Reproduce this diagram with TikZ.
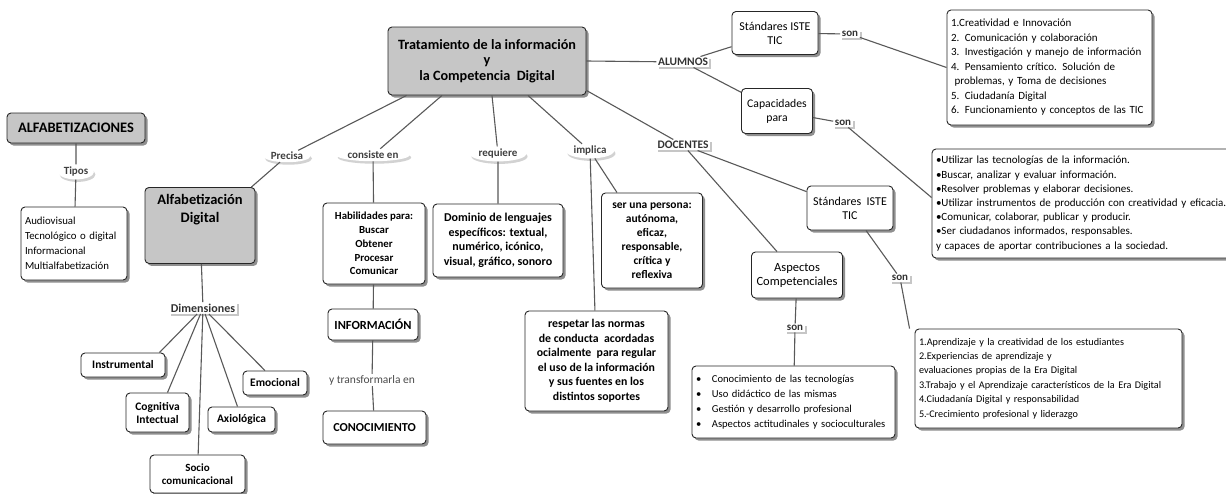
\documentclass[tikz,border=0pt]{standalone}
\usepackage{fontspec}
\setmainfont{Carlito}
\usetikzlibrary{shadows,shapes.geometric}
\tikzset{
	concepto/.style={draw=black!85,line width=0.9pt,rounded corners=4pt,fill=white,align=center,inner sep=3pt,
		drop shadow={shadow xshift=2.5pt,shadow yshift=-2.5pt,fill=black!55,opacity=0.8}},
	gconcepto/.style={concepto,fill=gray!45},
	lista/.style={concepto,align=left,inner sep=4pt},
	enlace/.style={ellipse,fill=white,inner sep=0.5pt,font=\fontsize{11}{12}\selectfont\bfseries\color{black!75},
		drop shadow={shadow xshift=1.5pt,shadow yshift=-2.5pt,fill=gray!35,opacity=1}},
	enlacer/.style={fill=white,inner sep=1.5pt,font=\fontsize{11}{12}\selectfont\bfseries\color{black!80},
		drop shadow={shadow xshift=2pt,shadow yshift=-2pt,fill=gray!45,opacity=1}},
	dimension/.style={concepto,font=\fontsize{11.5}{13}\selectfont\bfseries},
	linea/.style={draw=black!65,line width=1.1pt}
}

\begin{document}
\begin{tikzpicture}[x=1pt,y=-1pt]
	\useasboundingbox[fill=white] (0,0) rectangle (1226,493);

	% conceptos principales
	\node [gconcepto,minimum width=198pt,minimum height=68pt,font=\fontsize{14.2}{15.5}\selectfont\bfseries] (main) at (487,61)
		{Tratamiento de la información\\y\\la Competencia~~Digital};
	\node [gconcepto,minimum width=138pt,minimum height=30pt,font=\fontsize{14.5}{16}\selectfont\bfseries] (alfab) at (76,128) {ALFABETIZACIONES};
	\node [gconcepto,minimum width=110pt,minimum height=76pt,font=\fontsize{14.5}{18}\selectfont\bfseries,anchor=north] (alfdig) at (200,187)
		{Alfabetización\\Digital\\[16pt]};

	% alfabetizaciones
	\node [enlace,drop shadow={opacity=0}] (tipos) at (76,172) {Tipos};
	\node [lista,text width=98pt,minimum height=73pt,font=\fontsize{10.8}{15}\selectfont] (tiposlist) at (74,243.5)
		{Audiovisual\\Tecnológico o digital\\Informacional\\Multialfabetización};

	% dimensiones
	\node [enlacer,font=\fontsize{12}{13}\selectfont\bfseries\color{black!80}] (dimens) at (203,308) {Dimensiones};
	\node [dimension,minimum width=84pt,minimum height=24pt] (instr) at (123,365) {Instrumental};
	\node [dimension,minimum width=63pt,minimum height=39pt] (cogn) at (157.5,412.5) {Cognitiva\\Intectual};
	\node [dimension,minimum width=95pt,minimum height=38pt,font=\fontsize{11}{13}\selectfont\bfseries] (socio) at (197.5,474) {Socio\\comunicacional};
	\node [dimension,minimum width=67pt,minimum height=25pt] (axio) at (241.5,419.5) {Axiológica};
	\node [dimension,minimum width=64pt,minimum height=24pt] (emoc) at (275,383) {Emocional};

	% enlaces del concepto principal
	\node [enlace] (precisa) at (287,156) {Precisa};
	\node [enlace] (consiste) at (373,155) {consiste en};
	\node [enlace] (requiere) at (498,154) {requiere};
	\node [enlace] (implica) at (590,151) {implica};
	\node [enlacer,font=\fontsize{11.5}{12}\selectfont\bfseries\color{black!80}] (alumnos) at (683,62) {ALUMNOS};
	\node [enlacer,font=\fontsize{11.5}{12}\selectfont\bfseries\color{black!80}] (docentes) at (683,145) {DOCENTES};

	% centro
	\node [concepto,minimum width=102pt,minimum height=81pt,font=\fontsize{10.8}{13.8}\selectfont\bfseries] (habil) at (374,243.5)
		{Habilidades para:\\Buscar\\Obtener\\Procesar\\Comunicar};
	\node [concepto,minimum width=130pt,minimum height=73pt,font=\fontsize{12}{14.5}\selectfont\bfseries] (dominio) at (498,240.5)
		{Dominio de lenguajes\\específicos: textual,\\numérico, icónico,\\visual, gráfico, sonoro};
	\node [concepto,minimum width=90pt,minimum height=31pt,font=\fontsize{12.4}{13}\selectfont\bfseries] (info) at (373,324.5) {INFORMACIÓN};
	\node [font=\fontsize{11.5}{12}\selectfont\color{black!70},fill=white,inner sep=1pt] (transf) at (372,380) {y transformarla en};
	\node [concepto,minimum width=103pt,minimum height=33pt,font=\fontsize{12.2}{13}\selectfont\bfseries] (conoc) at (374.5,427.5) {CONOCIMIENTO};
	\node [concepto,minimum width=101pt,minimum height=95pt,font=\fontsize{11.5}{14}\selectfont\bfseries] (persona) at (652,240.5)
		{ser una persona:\\autónoma,\\eficaz,\\responsable,\\crítica y\\reflexiva};
	\node [concepto,minimum width=143pt,minimum height=100pt,font=\fontsize{11.8}{14.5}\selectfont\bfseries] (respetar) at (596.5,361)
		{respetar las normas\\de conducta~~acordadas\\ocialmente~~para regular\\el uso de la información\\y sus fuentes en los\\distintos soportes};

	% alumnos
	\node [concepto,minimum width=86pt,minimum height=43pt,font=\fontsize{12}{14}\selectfont] (iste1) at (775,33) {Stándares ISTE\\TIC};
	\node [enlacer] (son1) at (850,34) {son};
	\node [concepto,minimum width=71pt,minimum height=45pt,font=\fontsize{11.7}{14}\selectfont] (capac) at (777,111) {Capacidades\\para};
	\node [enlacer] (son2) at (843,123) {son};
	\node [lista,text width=197pt,minimum height=115pt,font=\fontsize{11}{14.5}\selectfont] (lista1) at (1049.5,67.5)
		{1.Creatividad e Innovación\\2. Comunicación y colaboración\\3. Investigación y manejo de información\\
		 4. Pensamiento crítico. Solución de\\\ problemas, y Toma de decisiones\\5. Ciudadanía Digital\\6. Funcionamiento y conceptos de las TIC};
	\node [lista,text width=304pt,minimum height=109pt,font=\fontsize{11}{14.2}\selectfont] (lista2) at (1088,203.5)
		{•Utilizar las tecnologías de la información.\\•Buscar, analizar y evaluar información.\\•Resolver problemas y elaborar decisiones.\\
		 •Utilizar instrumentos de producción con creatividad y eficacia.\\•Comunicar, colaborar, publicar y producir.\\
		 •Ser ciudadanos informados, responsables.\\y capaces de aportar contribuciones a la sociedad.};

	% docentes
	\node [concepto,minimum width=86pt,minimum height=44pt,font=\fontsize{12}{14}\selectfont] (iste2) at (850,208) {Stándares~~ISTE\\TIC};
	\node [enlacer] (son3) at (900,278) {son};
	\node [lista,text width=259pt,minimum height=99pt,font=\fontsize{10.2}{14.4}\selectfont] (lista3) at (1048.5,378.5)
		{1.Aprendizaje y la creatividad de los estudiantes\\2.Experiencias de aprendizaje y\\evaluaciones propias de la Era Digital\\
		 3.Trabajo y el Aprendizaje característicos de la Era Digital\\4.Ciudadanía Digital y responsabilidad\\5.-Crecimiento profesional y liderazgo};
	\node [concepto,minimum width=91pt,minimum height=46pt,font=\fontsize{12.5}{14}\selectfont] (aspectos) at (797,275) {Aspectos\\Competenciales};
	\node [enlacer] (son4) at (795,328) {son};
	\node [lista,text width=195pt,minimum height=72pt,font=\fontsize{10.6}{15}\selectfont] (lista4) at (793.5,402)
		{\textbullet\quad Conocimiento de las tecnologías\\\textbullet\quad Uso didáctico de las mismas\\
		 \textbullet\quad Gestión y desarrollo profesional\\\textbullet\quad Aspectos actitudinales y socioculturales};

	% conectores
	\draw [linea] (alfab) -- (tipos) -- (tiposlist);
	\draw [linea] ([xshift=-4pt]alfdig.north east) -- (precisa) -- ([xshift=19pt]main.south west);
	\draw [linea] (alfdig) -- (dimens);
	\draw [linea] (dimens) -- ([xshift=-6pt]instr.north east);
	\draw [linea] (dimens) -- ([xshift=10pt]cogn.north);
	\draw [linea] (dimens) -- (socio);
	\draw [linea] (dimens) -- ([xshift=-4pt]axio.north);
	\draw [linea] (dimens) -- ([xshift=-10pt]emoc.north);
	\draw [linea] ([xshift=-45pt]main.south) -- (consiste) -- (habil) -- (info) -- (transf) -- (conoc);
	\draw [linea] ([xshift=5pt]main.south) -- (requiere) -- (dominio);
	\draw [linea] ([xshift=41pt]main.south) -- (implica) -- ([xshift=-35pt]persona.north);
	\draw [linea] (implica) -- (respetar);
	\draw [linea] (main.east) -- (alumnos);
	\draw [linea] ([yshift=5pt]main.south east) -- (docentes);
	\draw [linea] (alumnos) -- (iste1) -- (son1) -- (lista1.west);
	\draw [linea] (alumnos) -- (capac) -- (son2) -- ([yshift=6pt]lista2.west);
	\draw [linea] (docentes) -- (iste2) -- (son3) -- ([xshift=-5pt]lista3.north west);
	\draw [linea] (docentes) -- ([xshift=-20pt]aspectos.north) ;
	\draw [linea] (aspectos) -- (son4) -- (lista4);
\end{tikzpicture}
\end{document}
